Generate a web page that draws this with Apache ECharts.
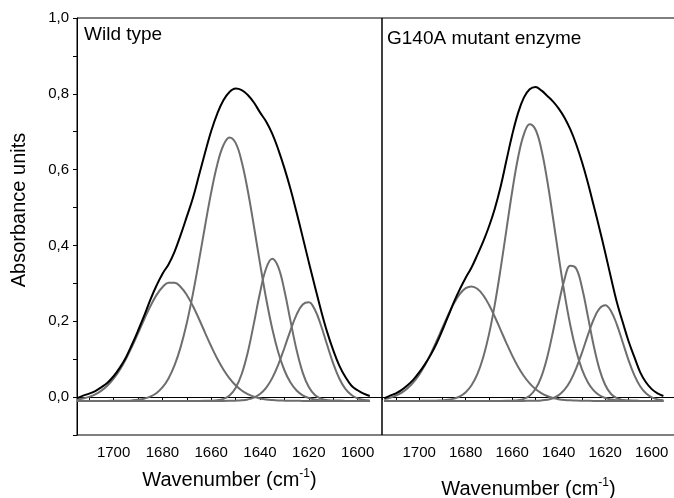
<!DOCTYPE html>
<html>
<head>
<meta charset="utf-8">
<script src="https://cdn.jsdelivr.net/npm/echarts@6/dist/echarts.min.js"></script>
<style>
html,body{margin:0;padding:0;background:#fff;overflow:hidden;}
#chart{width:674px;height:498px;}
</style>
</head>
<body>
<div id="chart"></div>
<script>
// ---- Data ----
var panelTitles = ['Wild type', 'G140A mutant enzyme'];
var xTickValues = [1700, 1680, 1660, 1640, 1620, 1600];
var xTickLabels = ['1700', '1680', '1660', '1640', '1620', '1600'];
var yTickValues = [0, 0.2, 0.4, 0.6, 0.8, 1.0];
var yTickLabels = ['0,0', '0,2', '0,4', '0,6', '0,8', '1,0'];

// common wavenumber grid (cm-1)
var wavenumbers = [1715,1712.5,1710,1707.5,1705,1702.5,1700,1697.5,1695,1692.5,1690,1687.5,1685,1682.5,1680,1677.5,1675,1672.5,1670,1667.5,1665,1662.5,1660,1657.5,1655,1652.5,1650,1647.5,1645,1642.5,1640,1637.5,1635,1632.5,1630,1627.5,1625,1622.5,1620,1617.5,1615,1612.5,1610,1607.5,1605,1602.5,1600,1597.5,1595];

// Wild type
var wtEnvelope = [-0.003,0.004,0.009,0.016,0.026,0.038,0.055,0.077,0.104,0.138,0.175,0.214,0.256,0.293,0.325,0.35,0.384,0.428,0.476,0.525,0.585,0.645,0.702,0.748,0.783,0.805,0.814,0.81,0.797,0.777,0.751,0.727,0.695,0.653,0.604,0.549,0.487,0.422,0.356,0.292,0.229,0.172,0.124,0.083,0.053,0.03,0.018,0.009,0.003];
var wtC1 = [-0.0064,-0.0036,0.0007,0.0072,0.0169,0.0304,0.0486,0.0718,0.1,0.1326,0.1682,0.2045,0.2389,0.2683,0.2899,0.3014,0.3017,0.2906,0.2694,0.2402,0.206,0.1696,0.134,0.1012,0.0728,0.0494,0.0311,0.0174,0.0076,0.0009,-0.0035,-0.0063,-0.0079,-0.0089,-0.0094,-0.0097,-0.0099,-0.01,-0.01,-0.01,-0.01,-0.01,-0.01,-0.01,-0.01,-0.01,-0.01,-0.01,-0.01];
var wtC2 = [-0.01,-0.01,-0.01,-0.01,-0.01,-0.01,-0.0099,-0.0097,-0.0094,-0.0087,-0.0072,-0.0042,0.0011,0.0103,0.0255,0.0492,0.0841,0.1324,0.1954,0.2724,0.36,0.4521,0.54,0.6138,0.6644,0.685,0.6705,0.6211,0.5442,0.4509,0.3528,0.2605,0.1809,0.1176,0.0708,0.0384,0.0174,0.0047,-0.0025,-0.0064,-0.0084,-0.0093,-0.0097,-0.0099,-0.01,-0.01,-0.01,-0.01,-0.01];
var wtC3 = [-0.01,-0.01,-0.01,-0.01,-0.01,-0.01,-0.01,-0.01,-0.01,-0.01,-0.01,-0.01,-0.01,-0.01,-0.01,-0.01,-0.01,-0.01,-0.01,-0.01,-0.01,-0.0099,-0.0095,-0.0082,-0.0046,0.0045,0.0242,0.0608,0.1185,0.1945,0.2754,0.3393,0.365,0.343,0.2814,0.201,0.124,0.0646,0.0264,0.0056,-0.0041,-0.0081,-0.0095,-0.0099,-0.01,-0.01,-0.01,-0.01,-0.01];
var wtC4 = [-0.01,-0.01,-0.01,-0.01,-0.01,-0.01,-0.01,-0.01,-0.01,-0.01,-0.01,-0.01,-0.01,-0.01,-0.01,-0.01,-0.01,-0.01,-0.01,-0.01,-0.01,-0.01,-0.01,-0.01,-0.01,-0.0098,-0.0094,-0.0085,-0.0062,-0.0013,0.0081,0.0245,0.0501,0.0857,0.1296,0.1762,0.2175,0.2444,0.2502,0.2302,0.1889,0.1379,0.0887,0.0491,0.0217,0.0053,-0.0034,-0.0074,-0.0091];

// G140A mutant enzyme
var gaEnvelope = [-0.003,0.004,0.01,0.019,0.031,0.046,0.065,0.087,0.112,0.142,0.177,0.214,0.252,0.285,0.315,0.342,0.375,0.41,0.45,0.497,0.555,0.624,0.692,0.749,0.79,0.812,0.818,0.809,0.795,0.78,0.761,0.737,0.706,0.667,0.62,0.566,0.506,0.445,0.381,0.314,0.25,0.198,0.148,0.106,0.066,0.039,0.021,0.01,0.003];
var gaC1 = [-0.0051,-0.0016,0.0038,0.0118,0.0233,0.0389,0.0593,0.0847,0.1146,0.148,0.183,0.2173,0.2479,0.2721,0.2873,0.292,0.2856,0.2688,0.2434,0.212,0.1774,0.1424,0.1095,0.0803,0.0557,0.0361,0.0212,0.0103,0.0028,-0.0023,-0.0055,-0.0075,-0.0086,-0.0093,-0.0096,-0.0098,-0.01,-0.01,-0.01,-0.01,-0.01,-0.01,-0.01,-0.01,-0.01,-0.01,-0.01,-0.01,-0.01];
var gaC2 = [-0.01,-0.01,-0.01,-0.01,-0.01,-0.01,-0.01,-0.0099,-0.0097,-0.0094,-0.0088,-0.0072,-0.0041,0.0019,0.0129,0.0313,0.0607,0.1046,0.1654,0.2441,0.3381,0.4411,0.543,0.6312,0.6932,0.72,0.7058,0.6544,0.5733,0.4744,0.3705,0.2727,0.1887,0.1221,0.0731,0.0394,0.0178,0.0048,-0.0025,-0.0065,-0.0084,-0.0093,-0.0097,-0.0099,-0.01,-0.01,-0.01,-0.01,-0.01];
var gaC3 = [-0.01,-0.01,-0.01,-0.01,-0.01,-0.01,-0.01,-0.01,-0.01,-0.01,-0.01,-0.01,-0.01,-0.01,-0.01,-0.01,-0.01,-0.01,-0.01,-0.01,-0.01,-0.0099,-0.0094,-0.0082,-0.0047,0.0037,0.0213,0.0535,0.1041,0.1718,0.2466,0.3111,0.3462,0.3392,0.2893,0.2142,0.1366,0.0738,0.0318,0.0082,-0.003,-0.0077,-0.0093,-0.0098,-0.01,-0.01,-0.01,-0.01,-0.01];
var gaC4 = [-0.01,-0.01,-0.01,-0.01,-0.01,-0.01,-0.01,-0.01,-0.01,-0.01,-0.01,-0.01,-0.01,-0.01,-0.01,-0.01,-0.01,-0.01,-0.01,-0.01,-0.01,-0.01,-0.01,-0.01,-0.01,-0.0099,-0.0096,-0.0088,-0.007,-0.003,0.0051,0.0194,0.0425,0.0756,0.1173,0.163,0.2047,0.2333,0.242,0.2267,0.1912,0.1448,0.0977,0.0578,0.0286,0.0099,-0.0007,-0.0061,-0.0085];

// ---- Chart ----
var FONT = '"Liberation Sans", Arial, Helvetica, sans-serif';
var chart = echarts.init(document.getElementById('chart'), null, {renderer: 'canvas'});

function pairs(ys) { return ys.map(function (y, i) { return [wavenumbers[i], y]; }); }
function xLabel(v) {
  var i = xTickValues.indexOf(Math.round(v));
  return i >= 0 ? xTickLabels[i] : '';
}
function yLabel(v) {
  var r = Math.round(v * 10) / 10;
  for (var i = 0; i < yTickValues.length; i++) {
    if (Math.abs(yTickValues[i] - r) < 1e-6) return yTickLabels[i];
  }
  return '';
}
function xAxisDef(idx, max, gap) {
  return {
    type: 'value', gridIndex: idx, min: 1590, max: max, interval: 10, inverse: true,
    axisLine: {show: true, lineStyle: {color: '#000', width: 1}},
    axisTick: {show: true, length: 3, lineStyle: {color: '#000'}},
    axisLabel: {formatter: xLabel, fontSize: 15, color: '#000', margin: 10, fontFamily: FONT},
    splitLine: {show: false},
    name: '{a|Wavenumber (cm}{s|-1}{a|)}',
    nameLocation: 'middle', nameGap: gap,
    nameTextStyle: {
      rich: {
        a: {fontSize: 20, color: '#000', fontFamily: FONT, lineHeight: 24},
        s: {fontSize: 12, color: '#000', fontFamily: FONT, verticalAlign: 'top', lineHeight: 24}
      }
    }
  };
}
function line(ys, xi, color, w, z) {
  return {
    type: 'line', data: pairs(ys), xAxisIndex: xi, yAxisIndex: xi,
    showSymbol: false, smooth: 0.4, clip: true, z: z,
    lineStyle: {color: color, width: w}, animation: false
  };
}
var GRAY = '#6e6e6e';

var option = {
  animation: false,
  backgroundColor: '#fff',
  grid: [
    {left: 77, top: 18, width: 305, height: 417, show: true, borderColor: '#000', borderWidth: 1,
      containLabel: false, outerBoundsMode: 'none'},
    {left: 382, top: 18, width: 293, height: 417, show: true, borderColor: '#000', borderWidth: 1,
      containLabel: false, outerBoundsMode: 'none'}
  ],
  xAxis: [xAxisDef(0, 1715, 33), xAxisDef(1, 1716, 42)],
  yAxis: [
    {
      type: 'value', gridIndex: 0, min: -0.1, max: 1.0, interval: 0.1,
      axisLine: {show: true, lineStyle: {color: '#000'}},
      axisTick: {show: true, length: 4, lineStyle: {color: '#000'}},
      axisLabel: {formatter: yLabel, fontSize: 15, color: '#000', margin: 8, fontFamily: FONT},
      splitLine: {show: false}
    },
    {
      type: 'value', gridIndex: 1, min: -0.1, max: 1.0, interval: 0.1, show: false,
      splitLine: {show: false}
    }
  ],
  graphic: [
    {type: 'text', left: 84, top: 25, z: 100,
      style: {text: panelTitles[0], font: '19px ' + FONT, fill: '#000'}},
    {type: 'text', left: 387, top: 29, z: 100,
      style: {text: panelTitles[1], font: '19px ' + FONT, fill: '#000'}},
    {type: 'text', x: 19, y: 210, rotation: Math.PI / 2, z: 100,
      style: {text: 'Absorbance units', font: '20px ' + FONT, fill: '#000', align: 'center', verticalAlign: 'middle'}}
  ],
  series: [
    line(wtC1, 0, GRAY, 2, 2), line(wtC2, 0, GRAY, 2, 2),
    line(wtC3, 0, GRAY, 2, 2), line(wtC4, 0, GRAY, 2, 2),
    line(wtEnvelope, 0, '#000', 2, 3),
    line(gaC1, 1, GRAY, 2, 2), line(gaC2, 1, GRAY, 2, 2),
    line(gaC3, 1, GRAY, 2, 2), line(gaC4, 1, GRAY, 2, 2),
    line(gaEnvelope, 1, '#000', 2, 3)
  ]
};
chart.setOption(option);
</script>
</body>
</html>
